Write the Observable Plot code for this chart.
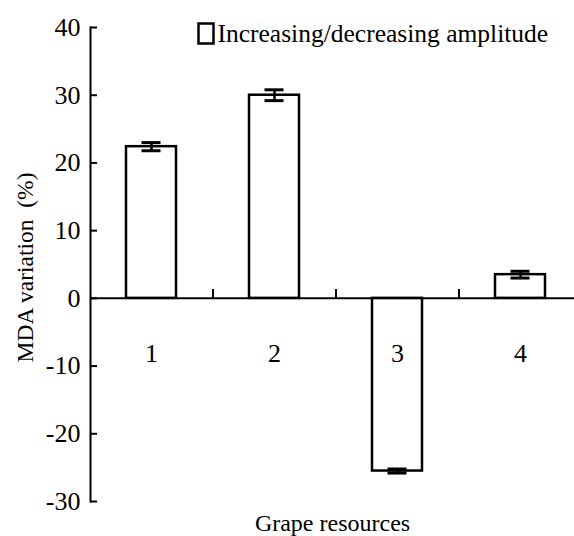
<!DOCTYPE html>
<html>
<head>
<meta charset="utf-8">
<script src="https://cdn.jsdelivr.net/npm/d3@7"></script>
<script src="https://cdn.jsdelivr.net/npm/@observablehq/plot@0.6"></script>
<style>
  html, body { margin: 0; padding: 0; background: #fff; }
</style>
</head>
<body>
<div id="chart"></div>
<script>
const categories = ["1", "2", "3", "4"];
const values = [22.4, 30.0, -25.5, 3.5];
const errors = [0.6, 0.8, 0.3, 0.5];
const yTicks = [-30, -20, -10, 0, 10, 20, 30, 40];
const legendLabel = "Increasing/decreasing amplitude";
const xLabel = "Grape resources";
const yLabel = "MDA variation\u00a0 (%)";

const data = categories.map((c, i) => ({cat: c, value: values[i], err: errors[i]}));
const boundaries = categories.slice(0, -1);

const W = 574, H = 536;
const mL = 90, mT = 27, mB = 35;
const xRange = [90, 582];
const step = (xRange[1] - xRange[0]) / categories.length;

const rectSymbol = { draw(ctx, size) { ctx.rect(-7.5, -10, 15, 20); } };

const chart = Plot.plot({
  width: W,
  height: H,
  marginLeft: mL,
  marginRight: 0,
  marginTop: mT,
  marginBottom: mB,
  style: { fontFamily: "'Liberation Serif', 'Times New Roman', serif", color: "#000", background: "#fff" },
  x: { domain: categories, range: xRange, paddingInner: 0.593, paddingOuter: 0.2965, axis: null },
  y: { domain: [-30, 40], axis: null },
  marks: [
    Plot.barY(data, { x: "cat", y: "value", fill: "#fff", stroke: "#000", strokeWidth: 2.5 }),
    Plot.ruleX(data, { x: "cat", y1: d => d.value - d.err, y2: d => d.value + d.err, stroke: "#000", strokeWidth: 2.5 }),
    Plot.tickY(data, { x: "cat", y: d => d.value + d.err, stroke: "#000", strokeWidth: 3, insetLeft: 15.5, insetRight: 15.5 }),
    Plot.tickY(data, { x: "cat", y: d => d.value - d.err, stroke: "#000", strokeWidth: 3, insetLeft: 15.5, insetRight: 15.5 }),
    Plot.ruleY([0], { stroke: "#000", strokeWidth: 2 }),
    Plot.ruleX(boundaries, { x: d => d, dx: step / 2, y1: 0, y2: 1.3, stroke: "#000", strokeWidth: 2 }),
    Plot.frame({ anchor: "left", stroke: "#000", strokeWidth: 2 }),
    Plot.ruleY(yTicks, { y: d => d, stroke: "#000", strokeWidth: 2, insetRight: (W - mL) - 7 }),
    Plot.text(yTicks, { y: d => d, text: d => String(d), frameAnchor: "left", dx: -10, textAnchor: "end", fontSize: 26, fill: "#000" }),
    Plot.text(categories, { x: d => d, y: () => 0, text: d => d, dy: 55, fontSize: 26, fill: "#000" }),
    Plot.text([xLabel], { frameAnchor: "bottom", dx: 0, dy: 22, fontSize: 24, fill: "#000", lineAnchor: "middle" }),
    Plot.text([yLabel], { frameAnchor: "left", dx: -65, dy: 3, rotate: -90, textAnchor: "middle", lineAnchor: "middle", fontSize: 23.5, fill: "#000" }),
    Plot.dot([legendLabel], { frameAnchor: "top-left", dx: 115.5, dy: 6, symbol: rectSymbol, r: 5, fill: "#fff", stroke: "#000", strokeWidth: 2.5 }),
    Plot.text([legendLabel], { frameAnchor: "top-left", dx: 127, dy: 6, textAnchor: "start", lineAnchor: "middle", fontSize: 25.5, fill: "#000" })
  ]
});
document.getElementById("chart").appendChild(chart);
</script>
</body>
</html>
